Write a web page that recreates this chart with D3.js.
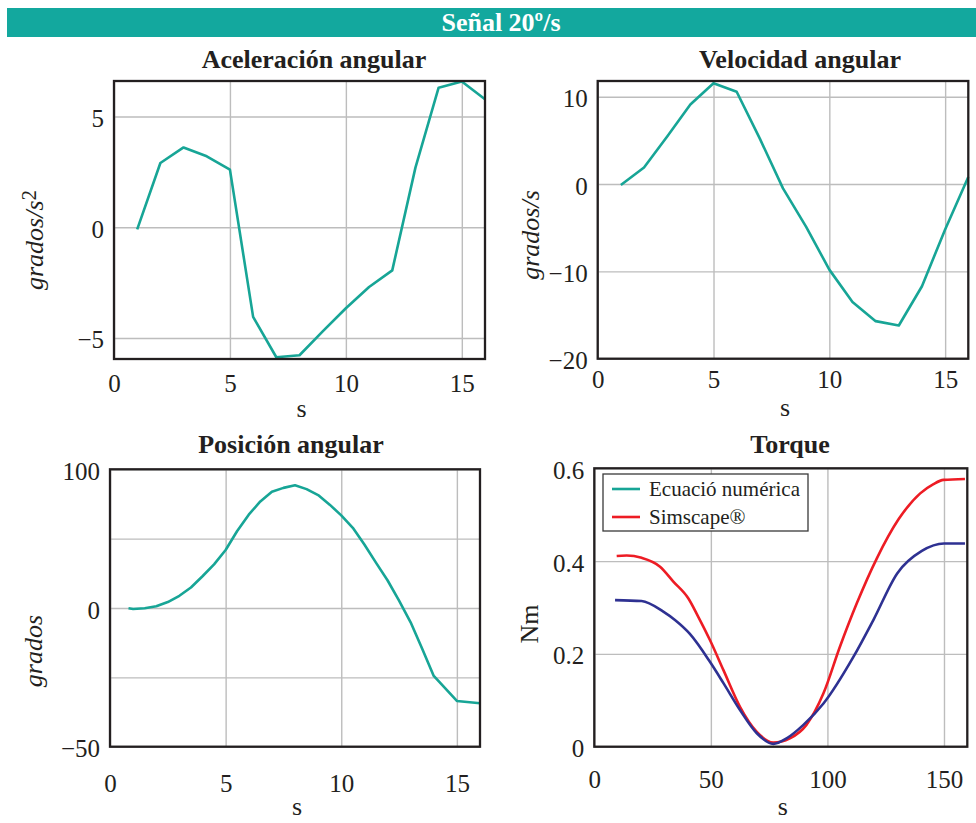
<!DOCTYPE html>
<html>
<head>
<meta charset="utf-8">
<script src="https://cdnjs.cloudflare.com/ajax/libs/d3/7.8.5/d3.min.js"></script>
<style>
  body { margin: 0; background: #fff; }
  svg text { font-family: "Liberation Serif", "Times New Roman", serif; fill: #231F20; }
</style>
</head>
<body>
<div id="chart"></div>
<script>
// ---- data ----
var mainTitle = "Señal 20º/s";

var accX = [1, 2, 3, 4, 5, 6, 7, 8, 9, 10, 11, 12, 13, 14, 15, 16];
var accY = [-0.1, 2.9, 3.6, 3.2, 2.6, -4.05, -5.87, -5.78, -4.7, -3.66, -2.7, -1.95, 2.69, 6.3, 6.58, 5.78];

var velX = [1, 2, 3, 4, 5, 6, 7, 8, 9, 10, 11, 12, 13, 14, 15, 16];
var velY = [-0.1, 1.9, 5.45, 9.1, 11.55, 10.57, 5.2, -0.5, -4.9, -9.8, -13.5, -15.7, -16.2, -11.7, -5.2, 0.8];

var posX = [0.8, 1, 1.5, 2, 2.5, 3, 3.5, 4, 4.5, 5, 5.5, 6, 6.5, 7, 7.5, 8, 8.5, 9, 9.5, 10, 10.5, 11, 11.5, 12, 12.5, 13, 13.5, 14, 15, 16];
var posY = [-0.2, -0.7, -0.2, 1.2, 4.3, 8.8, 14.8, 22.9, 31.5, 41.8, 55.5, 67.3, 76.8, 83.8, 86.6, 88.5, 85.7, 81.4, 74.5, 66.8, 57.8, 45.8, 32.7, 20, 5.3, -10.3, -29.4, -49, -67, -68.7];

var numT = [8.9, 20.3, 29.6, 34.6, 41, 49.6, 55.4, 62.5, 69.7, 76.8, 82.5, 89.7, 98.3, 111.2, 119.7, 130, 140.5, 150, 159];
var numV = [0.316, 0.314, 0.291, 0.273, 0.243, 0.183, 0.137, 0.079, 0.029, 0.006, 0.018, 0.047, 0.093, 0.194, 0.273, 0.374, 0.422, 0.438, 0.438];

var simT = [9.6, 13.9, 20.3, 28.2, 33.9, 40.3, 44.6, 49.6, 55.4, 62.5, 69.7, 76.8, 83.9, 91, 98.3, 105.4, 112.6, 121.2, 130.5, 139.8, 145.5, 149.8, 159];
var simV = [0.411, 0.412, 0.407, 0.388, 0.356, 0.320, 0.280, 0.230, 0.165, 0.086, 0.032, 0.009, 0.018, 0.047, 0.115, 0.216, 0.309, 0.406, 0.490, 0.546, 0.566, 0.575, 0.577];

var legendLabels = ["Ecuació numérica", "Simscape®"];

// tick values / labels
var secTicks = [0, 5, 10, 15];
var torqueTicksX = [0, 50, 100, 150];
var accTicksY = [-5, 0, 5];
var velTicksY = [-20, -10, 0, 10];
var posTicksY = [-100, -50, 0, 50, 100];
var posTickLabels = ["\u221250", "", "0", "", "100"];
var torqueTicksY = [0, 0.2, 0.4, 0.6];

// ---- styles ----
var teal = "#17A596";
var blue = "#2E3192";
var red = "#ED1C24";
var gridColor = "#BDBDBD";
var frameColor = "#231F20";

var width = 976, height = 823;

var fmt = d => d < 0 ? "\u2212" + Math.abs(d) : String(d);

var svg = d3.select("#chart")
  .append("svg")
  .attr("width", width)
  .attr("height", height);

// header band
svg.append("rect")
  .attr("x", 7).attr("y", 8)
  .attr("width", width - 7).attr("height", 29)
  .attr("fill", "#13A89E");

svg.append("text")
  .attr("x", 501).attr("y", 31)
  .attr("text-anchor", "middle")
  .attr("font-size", "26px")
  .attr("font-weight", "bold")
  .style("fill", "#fff")
  .text(mainTitle);

function drawPanel(p) {
  var x = d3.scaleLinear().domain(p.xDomain).range([p.left, p.right]);
  var y = d3.scaleLinear().domain(p.yDomain).range([p.bottom, p.top]);

  // grid
  svg.append("g")
    .attr("transform", `translate(0,${p.bottom})`)
    .call(d3.axisBottom(x).tickValues(p.xTicks).tickSize(-(p.bottom - p.top)).tickFormat(""))
    .call(g => g.select(".domain").remove())
    .selectAll("line")
    .attr("stroke", gridColor)
    .attr("stroke-width", 1.4);

  svg.append("g")
    .attr("transform", `translate(${p.left},0)`)
    .call(d3.axisLeft(y).tickValues(p.yTicks).tickSize(-(p.right - p.left)).tickFormat(""))
    .call(g => g.select(".domain").remove())
    .selectAll("line")
    .attr("stroke", gridColor)
    .attr("stroke-width", 1.4);

  // series
  var line = d3.line()
    .curve(p.smooth ? d3.curveMonotoneX : d3.curveLinear)
    .x(d => x(d[0]))
    .y(d => y(d[1]));

  p.series.forEach(function(s) {
    svg.append("path")
      .datum(d3.zip(s.x, s.y))
      .attr("fill", "none")
      .attr("stroke", s.color)
      .attr("stroke-width", 2.6)
      .attr("stroke-linejoin", "round")
      .attr("d", line);
  });

  // frame
  svg.append("rect")
    .attr("x", p.left).attr("y", p.top)
    .attr("width", p.right - p.left)
    .attr("height", p.bottom - p.top)
    .attr("fill", "none")
    .attr("stroke", frameColor)
    .attr("stroke-width", 2.3);

  // x tick labels
  svg.append("g")
    .attr("transform", `translate(0,${p.bottom})`)
    .call(d3.axisBottom(x).tickValues(p.xTicks).tickSize(0).tickFormat(fmt))
    .call(g => g.select(".domain").remove())
    .selectAll("text")
    .attr("y", p.xTickBase)
    .attr("dy", null)
    .attr("font-size", "25px")
    .attr("font-family", null);

  // y tick labels
  var yAxis = d3.axisLeft(y).tickValues(p.yTicks).tickSize(0).tickPadding(10)
    .tickFormat(p.yLabels ? (d, i) => p.yLabels[i] : fmt);
  svg.append("g")
    .attr("transform", `translate(${p.left},0)`)
    .call(yAxis)
    .call(g => g.select(".domain").remove())
    .selectAll("text")
    .attr("dy", "0.4em")
    .attr("font-size", "25px")
    .attr("font-family", null);

  // title
  svg.append("text")
    .attr("x", p.titleX).attr("y", p.titleY)
    .attr("text-anchor", "middle")
    .attr("font-size", "26px")
    .attr("font-weight", "bold")
    .text(p.title);

  // x label
  svg.append("text")
    .attr("x", (p.left + p.right) / 2 + 2).attr("y", p.xLabelY)
    .attr("text-anchor", "middle")
    .attr("font-size", "26px")
    .text("s");

  // y label
  var yl = svg.append("text")
    .attr("transform", `translate(${p.yLabelX},${p.yLabelY}) rotate(-90)`)
    .attr("text-anchor", "middle")
    .attr("font-size", "26px");
  yl.append("tspan")
    .attr("font-style", p.yLabelItalic ? "italic" : "normal")
    .text(p.yLabel);
  if (p.yLabelSup) {
    yl.append("tspan")
      .attr("dy", -7)
      .attr("font-size", "21px")
      .text(p.yLabelSup);
  }
  return { x: x, y: y };
}

drawPanel({
  title: "Aceleración angular", titleX: 314, titleY: 68,
  left: 114, top: 81, right: 485, bottom: 359,
  xDomain: [0, 16], yDomain: [-5.95, 6.6],
  xTicks: secTicks, yTicks: accTicksY,
  xTickBase: 33, xLabelY: 417,
  yLabel: "grados/s", yLabelSup: "2", yLabelItalic: true, yLabelX: 43, yLabelY: 240,
  series: [{ x: accX, y: accY, color: teal }]
});

drawPanel({
  title: "Velocidad angular", titleX: 800, titleY: 68,
  left: 597.7, top: 81, right: 968.3, bottom: 358.7,
  xDomain: [0, 16], yDomain: [-20, 11.8],
  xTicks: secTicks, yTicks: velTicksY,
  xTickBase: 29, xLabelY: 416,
  yLabel: "grados/s", yLabelItalic: true, yLabelX: 539, yLabelY: 235,
  series: [{ x: velX, y: velY, color: teal }]
});

drawPanel({
  title: "Posición angular", titleX: 291, titleY: 453,
  left: 110, top: 469.3, right: 480, bottom: 746.7,
  xDomain: [0, 16], yDomain: [-100, 100],
  xTicks: secTicks, yTicks: posTicksY, yLabels: posTickLabels,
  xTickBase: 45, xLabelY: 815,
  yLabel: "grados", yLabelItalic: true, yLabelX: 42, yLabelY: 651,
  series: [{ x: posX, y: posY, color: teal }]
});

drawPanel({
  title: "Torque", titleX: 790, titleY: 453,
  left: 594.3, top: 468.3, right: 967.3, bottom: 746.7,
  xDomain: [0, 160], yDomain: [0, 0.6],
  xTicks: torqueTicksX, yTicks: torqueTicksY,
  xTickBase: 41, xLabelY: 815, smooth: true,
  yLabel: "Nm", yLabelItalic: false, yLabelX: 538, yLabelY: 624,
  series: [
    { x: simT, y: simV, color: red },
    { x: numT, y: numV, color: blue }
  ]
});

// legend (torque panel)
var legend = svg.append("g").attr("transform", "translate(603,474)");
legend.append("rect")
  .attr("width", 205).attr("height", 57)
  .attr("fill", "#fff")
  .attr("stroke", "#3a3a3a")
  .attr("stroke-width", 1.3);

var legendColors = [teal, red];
legend.selectAll(".lg")
  .data(legendLabels)
  .enter()
  .append("g")
  .attr("class", "lg")
  .attr("transform", (d, i) => `translate(0,${15 + i * 28})`)
  .each(function(d, i) {
    var g = d3.select(this);
    g.append("line")
      .attr("x1", 9).attr("x2", 37)
      .attr("stroke", legendColors[i])
      .attr("stroke-width", 2.6);
    g.append("text")
      .attr("x", 46).attr("y", 7)
      .attr("font-size", "21px")
      .text(d);
  });
</script>
</body>
</html>
